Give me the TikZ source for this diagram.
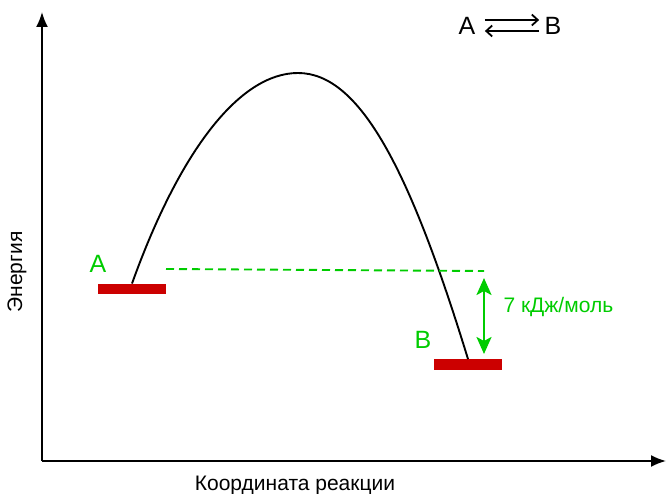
\documentclass[tikz,border=0pt]{standalone}
\usepackage{fontspec}
\setmainfont{Liberation Sans}
\usetikzlibrary{arrows.meta,calc,positioning}
\definecolor{barred}{RGB}{204,0,0}
\definecolor{lblgreen}{RGB}{0,204,0}
\tikzset{
  axis/.style  = {-{Latex[length=15pt,width=12pt]}, line width=1.8pt},
  level/.style = {fill=barred, inner sep=0pt, minimum width=68pt, minimum height=10.5pt},
  lbl/.style   = {text=lblgreen, font=\fontsize{25}{27}\selectfont},
  gap/.style   = {lblgreen, line width=1.9pt, dash pattern=on 8pt off 5pt},
  dE/.style    = {{Stealth[length=17pt,width=15pt,inset=4pt]}-{Stealth[length=17pt,width=15pt,inset=4pt]}, lblgreen, line width=2.5pt},
  eq/.style    = {-{Straight Barb[length=6pt,width=11pt]}, line width=1.8pt},
}
\begin{document}
\begin{tikzpicture}[x=1pt,y=1pt]
  \useasboundingbox (0,0) rectangle (667,493);
  % axes
  \coordinate (O) at (42,32);
  \coordinate (ytip) at (42,481);
  \coordinate (xtip) at (666,32);
  \draw[axis] (O) -- (ytip);
  \draw[axis] (O) -- (xtip);
  \node[font=\fontsize{21}{23}\selectfont,rotate=90] (ylab) at (17,221) {Энергия};
  \node[font=\fontsize{21}{23}\selectfont] (xlab) at (295,8) {Координата реакции};
  % levels
  \node[level] (barA) at (132,204) {};
  \node[level] (barB) at (468,128.5) {};
  \node[lbl] (labA) at (98,229) {A};
  \node[lbl] (labB) at (423,153) {B};
  % energy profile
  \coordinate (peak) at (298,420);
  \draw[line width=1.9pt] (barA.north) .. controls (180,343) and (240,420) .. (peak)
      .. controls (360,420) and (410,323) .. (barB.north);
  % energy difference
  \coordinate (dashL) at (166,224);
  \coordinate (dashR) at (484,222);
  \coordinate (dEtop) at (484,215);
  \coordinate (dEbot) at (484,139);
  \draw[gap] (dashL) -- (dashR);
  \draw[dE] (dEtop) -- (dEbot);
  \node[text=lblgreen,font=\fontsize{21}{23}\selectfont,anchor=west] (dElab) at (500,186) {7 кДж/моль};
  % equilibrium
  \node[font=\fontsize{25}{27}\selectfont] (eqA) at (467,467) {A};
  \node[font=\fontsize{25}{27}\selectfont] (eqB) at (553,467) {B};
  \draw[eq] ($(eqA.east)+(6,6)$) -- ($(eqB.west)+(-2,6)$);
  \draw[eq] ($(eqB.west)+(-2,-5)$) -- ($(eqA.east)+(6,-5)$);
\end{tikzpicture}
\end{document}
